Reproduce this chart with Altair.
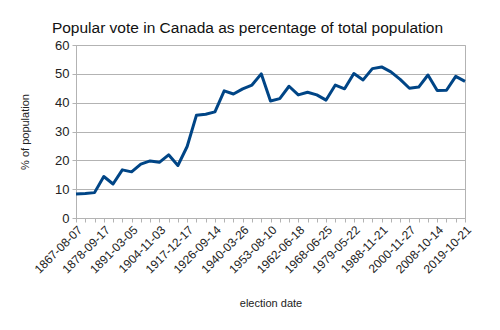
import json
import altair as alt
import pandas as pd

dates = ["1867-08-07", "1872-07-20", "1874-01-22", "1878-09-17", "1882-06-20",
         "1887-02-22", "1891-03-05", "1896-06-23", "1900-11-07", "1904-11-03",
         "1908-10-26", "1911-09-21", "1917-12-17", "1921-12-06", "1925-10-29",
         "1926-09-14", "1930-07-28", "1935-10-14", "1940-03-26", "1945-06-11",
         "1949-06-27", "1953-08-10", "1957-06-10", "1958-03-31", "1962-06-18",
         "1963-04-08", "1965-11-08", "1968-06-25", "1972-10-30", "1974-07-08",
         "1979-05-22", "1980-02-18", "1984-09-04", "1988-11-21", "1993-10-25",
         "1997-06-02", "2000-11-27", "2004-06-28", "2006-01-23", "2008-10-14",
         "2011-05-02", "2015-10-19", "2019-10-21"]

pct = [8.3, 8.5, 8.8, 14.4, 11.8, 16.7, 16.0, 18.7, 19.8, 19.3, 21.9, 18.2,
       24.8, 35.6, 36.0, 36.8, 44.1, 43.0, 44.8, 46.1, 50.0, 40.6, 41.4, 45.7,
       42.7, 43.6, 42.7, 40.9, 46.1, 44.8, 50.1, 47.9, 51.8, 52.4, 50.7, 48.1,
       45.0, 45.4, 49.6, 44.2, 44.3, 49.1, 47.4]

y_ticks = [0, 10, 20, 30, 40, 50, 60]
shown_labels = dates[::3]

df = pd.DataFrame({"date": dates, "pct": pct})

label_expr = "indexof(" + json.dumps(shown_labels) + ", datum.value) >= 0 ? datum.value : ''"

FONT = "Liberation Sans"
GRID = "#b3b3b3"

chart = alt.Chart(df).mark_line(color="#004586", strokeWidth=3, strokeJoin="round").encode(
    x=alt.X("date:O", sort=None,
            scale=alt.Scale(type="point", padding=0),
            axis=alt.Axis(title="election date", labelAngle=315, labelExpr=label_expr,
                          labelOverlap=False, labelFontSize=12, labelColor="#222",
                          labelFont=FONT, tickSize=4, tickColor=GRID, domainColor=GRID,
                          titleFont=FONT, titleFontSize=11, titleFontWeight="normal",
                          titleColor="#222", titlePadding=22, grid=False, labelPadding=2)),
    y=alt.Y("pct:Q", scale=alt.Scale(domain=[0, 60], nice=False),
            axis=alt.Axis(title="% of population", values=y_ticks, grid=True,
                          gridColor=GRID, domainColor=GRID, tickColor=GRID, tickSize=4,
                          labelFont=FONT, labelFontSize=13, labelColor="#222",
                          titleFont=FONT, titleFontSize=11, titleFontWeight="normal",
                          titleColor="#222", titlePadding=24, labelPadding=3)),
).properties(
    width=389, height=173,
    title=alt.TitleParams("Popular vote in Canada as percentage of total population",
                          font=FONT, fontSize=15.5, fontWeight="normal", color="#111",
                          anchor="middle", offset=3, dx=-23),
    padding={"left": 76, "top": 45, "right": 35, "bottom": 112},
    autosize="none",
).configure_view(stroke=GRID)

chart.save("out.html", embed_options={"renderer": "svg", "actions": False})
